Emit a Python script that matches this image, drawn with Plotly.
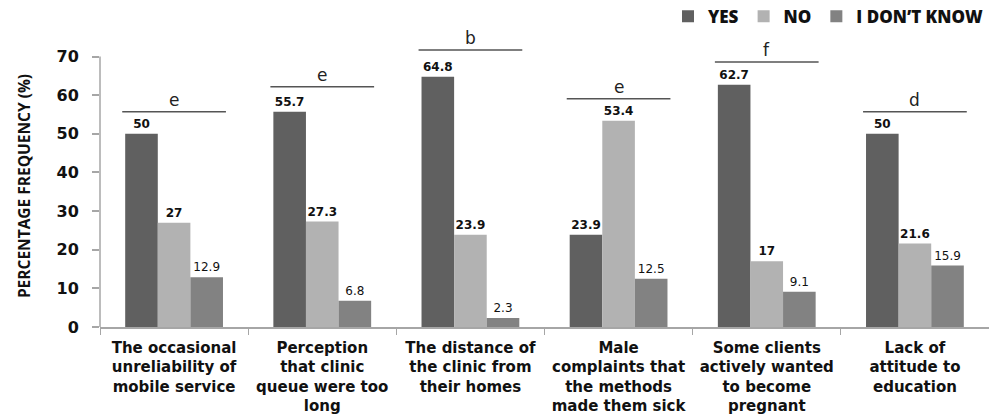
import plotly.graph_objects as go

categories = [
    "The occasional<br>unreliability of<br>mobile service",
    "Perception<br>that clinic<br>queue were too<br>long",
    "The distance of<br>the clinic from<br>their homes",
    "Male<br>complaints that<br>the methods<br>made them sick",
    "Some clients<br>actively wanted<br>to become<br>pregnant",
    "Lack of<br>attitude to<br>education",
]
yes_vals = [50, 55.7, 64.8, 23.9, 62.7, 50]
no_vals = [27, 27.3, 23.9, 53.4, 17, 21.6]
idk_vals = [12.9, 6.8, 2.3, 12.5, 9.1, 15.9]
sig_letters = ["e", "e", "b", "e", "f", "d"]
sig_levels = [55.7, 62.2, 71.7, 59.1, 68.6, 55.7]
y_ticks = [0, 10, 20, 30, 40, 50, 60, 70]

FONT = "DejaVu Sans"
fig = go.Figure()
series = [
    ("YES", yes_vals, "#606060", "bold"),
    ("NO", no_vals, "#b2b2b2", "bold"),
    ("I DON\u2019T KNOW", idk_vals, "#828282", "normal"),
]
for name, vals, col, w in series:
    fig.add_trace(go.Bar(
        name=name, x=categories, y=vals, marker=dict(color=col, line=dict(width=0)),
        text=[str(v) for v in vals], textposition="outside",
        textfont=dict(family=FONT, size=12, color="#111111", weight=w),
        cliponaxis=False,
    ))

for i, (lt, lv) in enumerate(zip(sig_letters, sig_levels)):
    fig.add_shape(type="line", xref="x", yref="y", x0=i - 0.35, x1=i + 0.35,
                  y0=lv, y1=lv, line=dict(color="#555555", width=1.5))
    fig.add_annotation(x=i, y=lv, xref="x", yref="y", text=lt, showarrow=False,
                       yanchor="bottom", yshift=0,
                       font=dict(family=FONT, size=17, color="#222222"))

# y axis line from 0 to 70
fig.add_shape(type="line", xref="paper", yref="y", x0=0, x1=0, y0=0, y1=70,
              line=dict(color="#a6a6a6", width=1.5))

fig.update_layout(
    width=989, height=417,
    margin=dict(l=100, r=0, t=45, b=90),
    plot_bgcolor="white", paper_bgcolor="white",
    barmode="group", bargap=0.34, bargroupgap=0,
    showlegend=True,
    legend=dict(orientation="h", x=1, xref="container", xanchor="right",
                y=0.96, yref="container", yanchor="middle",
                font=dict(family="Open Sans", size=17, color="#111111", weight=800),
                itemwidth=30, traceorder="normal"),
    xaxis=dict(type="category", showline=True, linecolor="#a6a6a6", linewidth=1.5,
               ticks="outside", tickson="boundaries", ticklen=6, tickcolor="#a6a6a6",
               ticklabelstandoff=6,
               tickfont=dict(family=FONT, size=15, color="#111111", weight="bold"),
               showgrid=False, tickangle=0),
    yaxis=dict(range=[0, 73], tickvals=y_ticks, showline=False, showgrid=False,
               zeroline=False, ticks="outside", ticklen=7, tickcolor="#a6a6a6",
               tickwidth=1.5, ticklabelstandoff=10,
               tickfont=dict(family=FONT, size=16, color="#111111", weight="bold"),
               title=dict(text="PERCENTAGE FREQUENCY (%)", standoff=22,
                          font=dict(family="Liberation Sans Narrow, Open Sans", size=15.5,
                                    color="#111111", weight="bold"))),
)
fig.write_html("out.html", config={"displayModeBar": False},
               post_script="document.body.style.margin='0';")
